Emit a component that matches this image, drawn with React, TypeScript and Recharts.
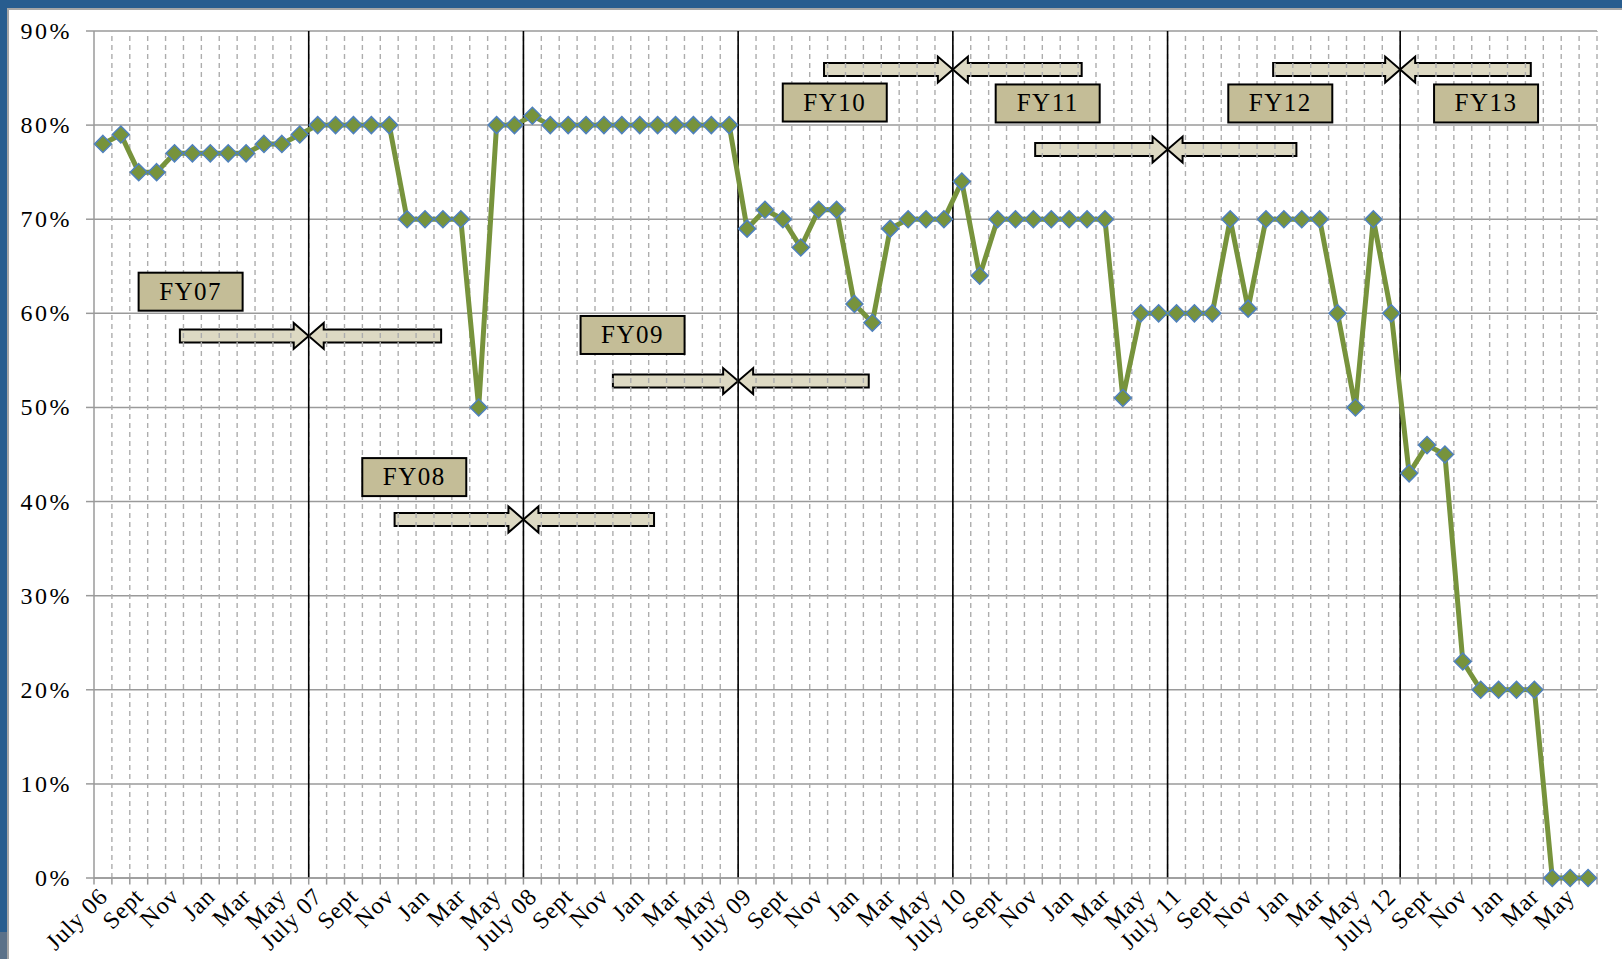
import React from "react"
import {
  LineChart,
  Line,
  XAxis,
  YAxis,
  CartesianGrid,
  ReferenceLine,
  ReferenceArea,
  ReferenceDot,
} from "recharts"

// monthly values, July 06 .. June 13 (percent)
const fy07 = [78, 79, 75, 75, 77, 77, 77, 77, 77, 78, 78, 79]
const fy08 = [80, 80, 80, 80, 80, 70, 70, 70, 70, 50, 80, 80]
const fy09 = [81, 80, 80, 80, 80, 80, 80, 80, 80, 80, 80, 80]
const fy10 = [69, 71, 70, 67, 71, 71, 61, 59, 69, 70, 70, 70]
const fy11 = [74, 64, 70, 70, 70, 70, 70, 70, 70, 51, 60, 60]
const fy12 = [60, 60, 60, 70, 60.5, 70, 70, 70, 70, 60, 50, 70, 60]
const fy13 = [43, 46, 45, 23, 20, 20, 20, 20, 0, 0, 0]

const tickLabels = [
  "July 06", "Sept", "Nov", "Jan", "Mar", "May",
  "July 07", "Sept", "Nov", "Jan", "Mar", "May",
  "July 08", "Sept", "Nov", "Jan", "Mar", "May",
  "July 09", "Sept", "Nov", "Jan", "Mar", "May",
  "July 10", "Sept", "Nov", "Jan", "Mar", "May",
  "July 11", "Sept", "Nov", "Jan", "Mar", "May",
  "July 12", "Sept", "Nov", "Jan", "Mar", "May",
]

const yTicks = [0, 10, 20, 30, 40, 50, 60, 70, 80, 90]

// fiscal-year annotations (x in months from July 06, y in percent)
const fyNames = ["FY07", "FY08", "FY09", "FY10", "FY11", "FY12", "FY13"]
const fyBoxX = [5.4, 17.9, 30.1, 41.4, 53.3, 66.3, 77.8]
const fyBoxY = [62.3, 42.6, 57.7, 82.4, 82.3, 82.3, 82.3]
const fyBoundaries = [12, 24, 36, 48, 60, 73]
const arrowY = [57.6, 38.1, 52.8, 85.9, 77.4, 85.9]
const arrowFrom = [4.8, 16.8, 29.0, 40.8, 52.6, 65.9]
const arrowTo = [19.4, 31.3, 43.3, 55.2, 67.2, 80.3]

const values = [...fy07, ...fy08, ...fy09, ...fy10, ...fy11, ...fy12, ...fy13]
const data = values.map((v, i) => ({ x: i + 0.5, v }))
const boundaries = values.map((_, i) => i + 1)
const labelTicks = tickLabels.map((_, i) => i * 2 + 0.5)

const FONT = "'Liberation Serif', 'Times New Roman', serif"
const GREEN = "#77933C"

function Diamond(props: any) {
  const { cx, cy, index } = props
  if (cx == null || cy == null) return <g key={index} />
  const r = 8.5
  return (
    <polygon
      key={index}
      points={`${cx},${cy - r} ${cx + r},${cy} ${cx},${cy + r} ${cx - r},${cy}`}
      fill={GREEN}
      stroke="#4F81BD"
      strokeWidth={1.5}
    />
  )
}

function XTick(props: any) {
  const { x, y, payload } = props
  const label = tickLabels[Math.round((payload.value - 0.5) / 2)]
  return (
    <g transform={`translate(${x + 6},${y + 20})`}>
      <text textAnchor="end" transform="rotate(-45)" fontFamily={FONT} fontSize={24} letterSpacing={0.8} fill="#000">
        {label}
      </text>
    </g>
  )
}

function YTick(props: any) {
  const { x, y, payload } = props
  return (
    <text x={x} y={y} dy={8} textAnchor="end" fontFamily={FONT} fontSize={24} letterSpacing={2.5} fill="#000">
      {`${payload.value}%`}
    </text>
  )
}

function RightArrow(props: any) {
  const { x, y, width, height } = props
  const cy = y + height / 2
  const head = 15
  const sx = x + width - head
  return (
    <polygon
      points={`${x},${cy - 6.5} ${sx},${cy - 6.5} ${sx},${cy - 13} ${x + width},${cy} ${sx},${cy + 13} ${sx},${cy + 6.5} ${x},${cy + 6.5}`}
      fill="#DDD9C3"
      stroke="#000"
      strokeWidth={2}
    />
  )
}

function LeftArrow(props: any) {
  const { x, y, width, height } = props
  const cy = y + height / 2
  const head = 15
  const sx = x + head
  return (
    <polygon
      points={`${x + width},${cy - 6.5} ${sx},${cy - 6.5} ${sx},${cy - 13} ${x},${cy} ${sx},${cy + 13} ${sx},${cy + 6.5} ${x + width},${cy + 6.5}`}
      fill="#DDD9C3"
      stroke="#000"
      strokeWidth={2}
    />
  )
}

function FyBox(label: string) {
  return (props: any) => {
    const { cx, cy } = props
    return (
      <g>
        <rect x={cx - 52} y={cy - 19} width={104} height={38} fill="#C4BD97" stroke="#000" strokeWidth={2} />
        <text x={cx} y={cy + 8} textAnchor="middle" fontFamily={FONT} fontSize={25} letterSpacing={1.5} fill="#000">
          {label}
        </text>
      </g>
    )
  }
}

export default function App() {
  return (
    <div style={{ position: "absolute", left: 0, top: 0, width: 1622, height: 959, background: "#fff", overflow: "hidden" }}>
      <div style={{ position: "absolute", left: 0, top: 0, width: 1622, height: 8, background: "#285D8F" }} />
      <div style={{ position: "absolute", left: 0, top: 0, width: 7, height: 932, background: "#285D8F" }} />
      <div style={{ position: "absolute", left: 0, top: 932, width: 7, height: 27, background: "#5B7189" }} />
      <div style={{ position: "absolute", left: 7, top: 8, width: 1615, height: 2, background: "#a6a6a6" }} />
      <div style={{ position: "absolute", left: 7, top: 8, width: 2, height: 951, background: "#a6a6a6" }} />
      <div style={{ position: "absolute", left: 0, top: 0 }}>
        <LineChart width={1622} height={959} data={data} margin={{ top: 31, right: 25, bottom: 0, left: 0 }}>
          <CartesianGrid vertical={false} stroke="#9a9a9a" strokeWidth={1.5} />
          {boundaries.map((b) => (
            <ReferenceLine key={`g${b}`} x={b} stroke="#adadad" strokeWidth={1.4} strokeDasharray="5 4" />
          ))}
          {[0, ...boundaries].map((b) => (
            <ReferenceLine
              key={`t${b}`}
              segment={[{ x: b, y: 0 }, { x: b, y: -0.7 }]}
              stroke="#9a9a9a"
              strokeWidth={1.5}
              ifOverflow="visible"
            />
          ))}
          {fyBoundaries.map((b) => (
            <ReferenceLine key={`fy${b}`} x={b} stroke="#000" strokeWidth={1.6} />
          ))}
          <XAxis
            dataKey="x"
            type="number"
            domain={[0, 84]}
            ticks={labelTicks}
            interval={0}
            height={81}
            tickSize={0}
            tickMargin={0}
            tickLine={false}
            axisLine={{ stroke: "#9a9a9a", strokeWidth: 1.5 }}
            tick={<XTick />}
          />
          <YAxis
            type="number"
            domain={[0, 90]}
            ticks={yTicks}
            width={94}
            tickSize={8}
            tickMargin={14}
            tickLine={{ stroke: "#9a9a9a", strokeWidth: 1.5 }}
            axisLine={{ stroke: "#9a9a9a", strokeWidth: 1.5 }}
            tick={<YTick />}
          />
          {arrowY.map((ay, i) => (
            <ReferenceArea
              key={`ra${i}`}
              x1={arrowFrom[i]}
              x2={fyBoundaries[i]}
              y1={ay - 0.5}
              y2={ay + 0.5}
              shape={<RightArrow />}
              ifOverflow="visible"
            />
          ))}
          {arrowY.map((ay, i) => (
            <ReferenceArea
              key={`la${i}`}
              x1={fyBoundaries[i]}
              x2={arrowTo[i]}
              y1={ay - 0.5}
              y2={ay + 0.5}
              shape={<LeftArrow />}
              ifOverflow="visible"
            />
          ))}
          {fyNames.map((name, i) => (
            <ReferenceDot key={name} x={fyBoxX[i]} y={fyBoxY[i]} r={1} shape={FyBox(name)} ifOverflow="visible" />
          ))}
          <Line
            type="linear"
            dataKey="v"
            stroke={GREEN}
            strokeWidth={5}
            dot={Diamond}
            activeDot={false}
            isAnimationActive={false}
          />
        </LineChart>
      </div>
    </div>
  )
}
